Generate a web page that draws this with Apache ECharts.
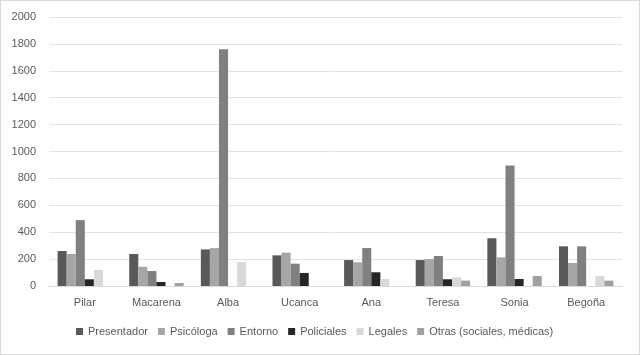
<!DOCTYPE html>
<html>
<head>
<meta charset="utf-8">
<script src="https://cdn.jsdelivr.net/npm/echarts@6/dist/echarts.min.js"></script>
<style>
  html, body { margin: 0; padding: 0; background: #fff; }
  #chart { width: 638px; height: 353px; border: 1px solid #d9d9d9; }
</style>
</head>
<body>
<div id="chart"></div>
<script>
const categories = ['Pilar', 'Macarena', 'Alba', 'Ucanca', 'Ana', 'Teresa', 'Sonia', 'Begoña'];
const presentador = [260, 238, 272, 228, 193, 193, 355, 295];
const psicologa = [238, 143, 282, 248, 176, 200, 213, 171];
const entorno = [490, 111, 1760, 166, 282, 223, 895, 295];
const policiales = [50, 30, 0, 97, 102, 50, 52, 0];
const legales = [119, 0, 178, 0, 52, 65, 0, 74];
const otras = [0, 22, 0, 0, 0, 40, 74, 40];

const seriesDefs = [
  { name: 'Presentador', data: presentador, color: '#595959' },
  { name: 'Psicóloga', data: psicologa, color: '#a6a6a6' },
  { name: 'Entorno', data: entorno, color: '#808080' },
  { name: 'Policiales', data: policiales, color: '#262626' },
  { name: 'Legales', data: legales, color: '#d9d9d9' },
  { name: 'Otras (sociales, médicas)', data: otras, color: '#a0a0a0' },
];

const chart = echarts.init(document.getElementById('chart'));

const font = '"Liberation Sans", Arial, sans-serif';

const option = {
  animation: false,
  textStyle: { fontFamily: font },
  grid: { left: 48, right: 17, top: 16, bottom: 68, containLabel: false },
  legend: {
    bottom: 12,
    left: 70,
    itemWidth: 7,
    itemHeight: 7,
    itemGap: 10,
    icon: 'rect',
    textStyle: { color: '#595959', fontSize: 11, fontFamily: font },
    data: seriesDefs.map(s => s.name),
  },
  xAxis: {
    type: 'category',
    data: categories,
    axisTick: { show: false },
    axisLine: { lineStyle: { color: '#d9d9d9' } },
    axisLabel: { color: '#595959', fontSize: 11, margin: 11, fontFamily: font },
  },
  yAxis: {
    type: 'value',
    min: 0,
    max: 2000,
    interval: 200,
    axisLine: { show: false },
    axisTick: { show: false },
    axisLabel: {
      color: '#595959', fontSize: 11, margin: 13, fontFamily: font,
      formatter: v => String(v),
    },
    splitLine: { lineStyle: { color: '#e3e3e3' } },
  },
  series: seriesDefs.map(s => ({
    name: s.name,
    type: 'bar',
    data: s.data,
    barGap: '0%',
    barCategoryGap: '24%',
    itemStyle: { color: s.color },
  })),
};

chart.setOption(option);
</script>
</body>
</html>
